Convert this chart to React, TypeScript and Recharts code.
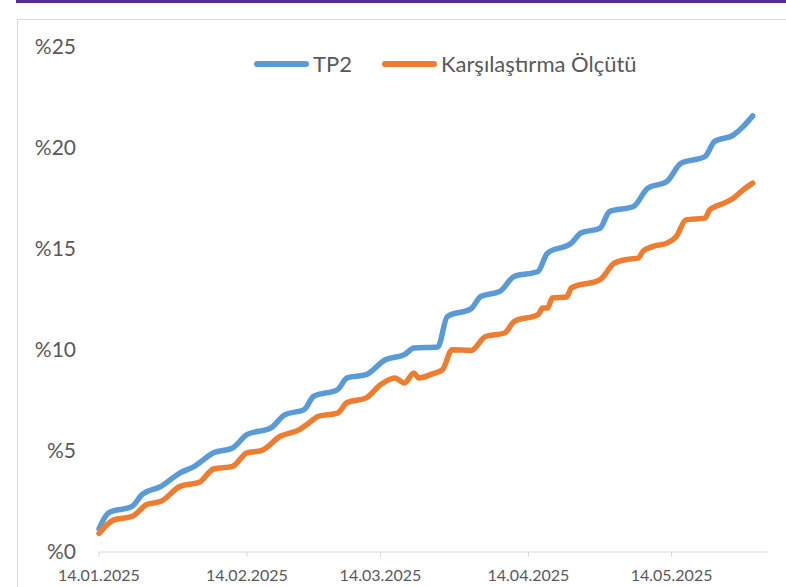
import { Line, LineChart, XAxis, YAxis } from "recharts";

// TP2 fund, cumulative return (%)
const tp2Dates = [
  "14.01.2025", "16.01.2025", "21.01.2025", "23.01.2025", "27.01.2025", "31.01.2025",
  "03.02.2025", "07.02.2025", "11.02.2025", "14.02.2025", "19.02.2025", "22.02.2025",
  "26.02.2025", "28.02.2025", "05.03.2025", "07.03.2025", "11.03.2025", "15.03.2025",
  "19.03.2025", "21.03.2025", "26.03.2025", "28.03.2025", "02.04.2025", "04.04.2025",
  "08.04.2025", "11.04.2025", "16.04.2025", "18.04.2025", "23.04.2025", "25.04.2025",
  "29.04.2025", "01.05.2025", "06.05.2025", "09.05.2025", "13.05.2025", "16.05.2025",
  "21.05.2025", "23.05.2025", "27.05.2025", "29.05.2025", "31.05.2025",
];
const tp2Values = [
  1.15, 1.94, 2.27, 2.84, 3.25, 3.92,
  4.24, 4.91, 5.15, 5.81, 6.14, 6.8,
  7.05, 7.71, 8.04, 8.62, 8.78, 9.52,
  9.77, 10.1, 10.15, 11.66, 12.05, 12.65,
  12.9, 13.64, 13.89, 14.8, 15.29, 15.79,
  16.03, 16.85, 17.1, 18.01, 18.34, 19.25,
  19.57, 20.32, 20.65, 21.06, 21.59,
];

// benchmark, cumulative return (%)
const benchDates = [
  "14.01.2025", "17.01.2025", "21.01.2025", "24.01.2025", "27.01.2025", "31.01.2025",
  "04.02.2025", "07.02.2025", "11.02.2025", "14.02.2025", "17.02.2025", "21.02.2025",
  "25.02.2025", "27.02.2025", "01.03.2025", "05.03.2025", "07.03.2025", "11.03.2025",
  "14.03.2025", "17.03.2025", "19.03.2025", "21.03.2025", "22.03.2025", "25.03.2025",
  "27.03.2025", "29.03.2025", "02.04.2025", "05.04.2025", "09.04.2025", "11.04.2025",
  "16.04.2025", "17.04.2025", "18.04.2025", "19.04.2025", "22.04.2025", "23.04.2025",
  "29.04.2025", "02.05.2025", "05.05.2025", "07.05.2025", "08.05.2025", "10.05.2025",
  "13.05.2025", "15.05.2025", "17.05.2025", "21.05.2025", "22.05.2025", "25.05.2025",
  "27.05.2025", "29.05.2025", "31.05.2025",
];
const benchValues = [
  0.92, 1.58, 1.77, 2.35, 2.51, 3.25,
  3.45, 4.11, 4.24, 4.91, 5.02, 5.73,
  6.06, 6.39, 6.72, 6.88, 7.4, 7.63,
  8.28, 8.62, 8.37, 8.86, 8.62, 8.83,
  9.03, 10.01, 9.98, 10.67, 10.84, 11.41,
  11.75, 12.08, 12.08, 12.57, 12.62, 13.07,
  13.48, 14.3, 14.5, 14.55, 14.88, 15.12,
  15.29, 15.62, 16.44, 16.53, 16.94, 17.27,
  17.52, 17.93, 18.26,
];

const seriesNames = ["TP2", "Karşılaştırma Ölçütü"];
const seriesColors = ["#5B9BD5", "#ED7D31"];
const xTickDates = ["14.01.2025", "14.02.2025", "14.03.2025", "14.04.2025", "14.05.2025"];
const yTicks = [0, 5, 10, 15, 20, 25];

const FONT = "Lato, 'Open Sans', sans-serif";
const TEXT = "#595959";

function toDay(s: string) {
  const [d, m, y] = s.split(".").map(Number);
  return Date.UTC(y, m - 1, d) / 86400000;
}
const START = toDay(xTickDates[0]);
const dayOf = (s: string) => toDay(s) - START;

const tp2Data = tp2Dates.map((d, i) => ({ day: dayOf(d), value: tp2Values[i] }));
const benchData = benchDates.map((d, i) => ({ day: dayOf(d), value: benchValues[i] }));
const xTicks = xTickDates.map(dayOf);
const xLabel = (v: number) => xTickDates[xTicks.indexOf(v)] ?? "";

function LegendBox() {
  return (
    <div
      style={{
        position: "absolute",
        left: 254,
        top: 51,
        display: "flex",
        alignItems: "center",
        fontFamily: FONT,
        fontSize: 22,
        color: TEXT,
        lineHeight: "26px",
      }}
    >
      {seriesNames.map((name, i) => (
        <div key={name} style={{ display: "flex", alignItems: "center", marginRight: 30 }}>
          <span
            style={{
              display: "inline-block",
              width: 55,
              height: 6,
              borderRadius: 3,
              background: seriesColors[i],
              marginRight: 4,
            }}
          />
          <span>{name}</span>
        </div>
      ))}
    </div>
  );
}

export default function App() {
  return (
    <div style={{ position: "absolute", left: 0, top: 0, width: 786, height: 587, overflow: "hidden", background: "#fff" }}>
      <div style={{ position: "absolute", left: 16, top: 0, width: 770, height: 3, background: "#5b2c8f" }} />
      <div
        style={{
          position: "absolute",
          left: 17,
          top: 19,
          width: 800,
          height: 600,
          borderLeft: "1px solid #d9d9d9",
          borderTop: "1px solid #d9d9d9",
        }}
      />
      <LineChart
        width={786}
        height={587}
        style={{ position: "absolute", left: 0, top: 0 }}
        margin={{ top: 47, right: 19, bottom: 0, left: 39 }}
      >
        <XAxis
          dataKey="day"
          type="number"
          domain={[0, 140]}
          ticks={xTicks}
          tickFormatter={xLabel}
          allowDuplicatedCategory={false}
          stroke="#d9d9d9"
          tickSize={5}
          tickMargin={13}
          tick={{ fill: TEXT, fontSize: 16, fontFamily: FONT }}
          height={35}
        />
        <YAxis
          type="number"
          domain={[0, 25]}
          ticks={yTicks}
          tickFormatter={(v: number) => `%${v}`}
          axisLine={false}
          tickLine={false}
          tickSize={0}
          tickMargin={23}
          width={60}
          tick={{ fill: TEXT, fontSize: 21, fontFamily: FONT }}
        />
        <Line
          data={tp2Data}
          dataKey="value"
          name={seriesNames[0]}
          type="monotone"
          stroke={seriesColors[0]}
          strokeWidth={5.5}
          strokeLinecap="round"
          dot={false}
          isAnimationActive={false}
        />
        <Line
          data={benchData}
          dataKey="value"
          name={seriesNames[1]}
          type="monotone"
          stroke={seriesColors[1]}
          strokeWidth={5.5}
          strokeLinecap="round"
          dot={false}
          isAnimationActive={false}
        />
      </LineChart>
      <LegendBox />
    </div>
  );
}
